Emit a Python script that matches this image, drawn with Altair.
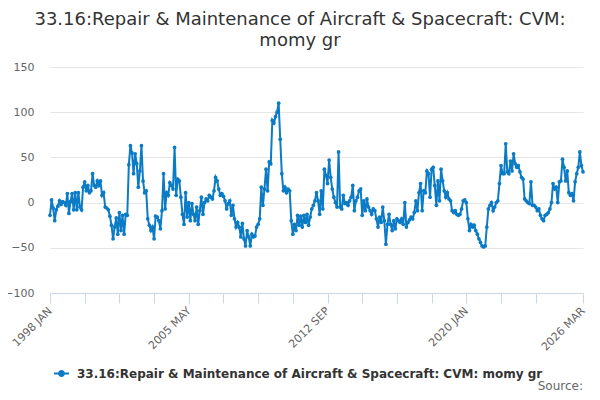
import altair as alt
import pandas as pd

series_name = "33.16:Repair & Maintenance of Aircraft & Spacecraft: CVM: momy gr"
title_lines = ["33.16:Repair & Maintenance of Aircraft & Spacecraft: CVM:", "momy gr"]
source_text = "Source:"

# monthly values, Jan 1998 .. Mar 2026
v1998 = [-14, 3, -6, -20, -8, -4, 2, -2, 1, 0, -3, 10]
v1999 = [-12, 1, 10, -8, 11, -8, 11, -5, -8, 17, 23, 13]
v2000 = [19, 11, 13, 32, 19, 17, 24, 19, 24, 8, 11, -5]
v2001 = [-6, -8, -15, -25, -40, -27, -17, -35, -11, -31, -14, -35]
v2002 = [-13, -14, 42, 63, 55, 32, 54, 43, 17, 35, 63, 24]
v2003 = [11, 13, -18, -25, -31, -27, -40, -15, -16, -20, -29, -9]
v2004 = [32, -7, 11, 8, 22, 19, 15, 61, 8, 26, 24, 6]
v2005 = [-13, -24, 11, -16, 0, -20, -1, -13, -20, -5, -24, -9]
v2006 = [6, -13, 0, 4, 2, 8, 6, 4, 13, 28, 24, 15]
v2007 = [8, 10, 7, 2, -7, -1, 2, -14, -3, -18, -27, -22]
v2008 = [-27, -38, -23, -40, -48, -31, -38, -48, -35, -38, -37, -27]
v2009 = [-24, -18, 17, -3, 15, 37, 13, 45, 43, 91, 88, 95]
v2010 = [100, 110, 70, 32, 13, 17, 11, 15, 13, -20, -35, -24]
v2011 = [-31, -14, -25, -15, -27, -14, -22, -13, -25, -16, -7, -3]
v2012 = [2, 11, 2, -13, 13, -7, 37, 30, 21, 47, 28, 15]
v2013 = [6, 0, -5, 56, -5, -7, 8, -1, 0, -3, 2, 6]
v2014 = [19, -9, 2, 6, 13, 15, -14, 2, -9, 4, -5, -9]
v2015 = [-13, -7, -9, -18, -27, -16, -22, -5, -20, -46, -24, -13]
v2016 = [-24, -31, -20, -29, -18, -20, -22, -18, -24, 0, -27, -22]
v2017 = [-19, -16, -18, -11, 2, -9, 11, 21, -9, 13, 11, 35]
v2018 = [32, 6, 37, 39, 19, -3, 24, 2, 37, 24, 13, 6]
v2019 = [11, 4, 2, -9, -11, -9, -13, -14, -13, -7, 2, 3]
v2020 = [0, -18, -31, -24, -27, -25, -31, -35, -40, -44, -48, -49]
v2021 = [-48, -27, -7, -3, 0, -9, -5, 0, 2, 21, 41, 32]
v2022 = [32, 65, 34, 32, 46, 35, 54, 43, 39, 41, 34, 28]
v2023 = [26, 4, 2, 0, -1, 23, -3, -3, -5, -9, -7, -14]
v2024 = [-18, -20, -14, -13, -11, -7, 0, 21, 15, 17, 0, 23]
v2025 = [24, 48, 39, 24, 35, 11, 8, 10, 2, 23, 32, 39]
v2026 = [56, 41, 34]

values = (v1998 + v1999 + v2000 + v2001 + v2002 + v2003 + v2004 + v2005 + v2006
          + v2007 + v2008 + v2009 + v2010 + v2011 + v2012 + v2013 + v2014 + v2015
          + v2016 + v2017 + v2018 + v2019 + v2020 + v2021 + v2022 + v2023 + v2024
          + v2025 + v2026)

tick_positions = [0, 22, 44, 66, 88, 110, 132, 154, 176, 198, 220, 242, 264, 286, 308, 338]
label_positions = [0, 88, 176, 264, 338]
tick_labels = ["1998 JAN", "2005 MAY", "2012 SEP", "2020 JAN", "2026 MAR"]
y_ticks = [-100, -50, 0, 50, 100, 150]

line_color = "#0a7bc4"
FONT = "DejaVu Sans"

label_expr = "''"
for p, lab in reversed(list(zip(label_positions, tick_labels))):
    label_expr = f"datum.value == {p} ? '{lab}' : ({label_expr})"

df = pd.DataFrame({
    "idx": list(range(len(values))),
    "value": values,
    "series": [series_name] * len(values),
})

legend_symbol = "M-1,0L1,0M-0.33,0A0.33,0.33,0,1,0,0.33,0A0.33,0.33,0,1,0,-0.33,0Z"

line = alt.Chart(df).mark_line(
    strokeWidth=2,
    point=alt.OverlayMarkDef(filled=True, size=14),
).encode(
    x=alt.X("idx:Q",
            scale=alt.Scale(domain=[0, len(values) - 1], nice=False, zero=False),
            axis=alt.Axis(values=tick_positions, labelExpr=label_expr, title=None,
                          grid=False, domainColor="#ccd6eb", tickColor="#ccd6eb",
                          tickSize=10, labelAngle=315, labelAlign="right",
                          labelBaseline="middle", labelPadding=6, labelFontSize=11,
                          labelColor="#666666", labelFont=FONT, labelOverlap=False,
                          labelBound=False, labelFlush=False)),
    y=alt.Y("value:Q",
            scale=alt.Scale(domain=[-100, 150], nice=False, zero=False),
            axis=alt.Axis(values=y_ticks, title=None, domain=False, ticks=False,
                          gridColor="#e6e6e6", labelFontSize=11, labelColor="#666666",
                          labelFont=FONT, labelPadding=16)),
    color=alt.Color("series:N",
                    scale=alt.Scale(range=[line_color]),
                    legend=alt.Legend(title=None, orient="none", legendX=3, legendY=298,
                                      symbolType=legend_symbol, symbolSize=225,
                                      symbolStrokeWidth=2, symbolFillColor=line_color,
                                      symbolStrokeColor=line_color, labelFontSize=12,
                                      labelFontWeight="bold", labelColor="#333333",
                                      labelFont=FONT, labelLimit=700, labelOffset=7,
                                      padding=0)),
)

source = alt.Chart(pd.DataFrame({"t": [source_text]})).mark_text(
    align="right", baseline="alphabetic", fontSize=12, color="#666666", font=FONT
).encode(text="t:N", x=alt.value(533), y=alt.value(323))

chart = alt.layer(line, source).properties(
    width=533,
    height=226,
    autosize=alt.AutoSizeParams(type="none"),
    padding={"left": 42, "top": 59, "right": 9, "bottom": 99},
    title=alt.TitleParams(text=title_lines, fontSize=18, font=FONT, fontWeight="normal",
                          color="#333333", anchor="middle", dx=-16.5, offset=11,
                          lineHeight=21),
).configure_view(stroke=None)

chart.save("out.html", embed_options={"renderer": "svg", "actions": False})
